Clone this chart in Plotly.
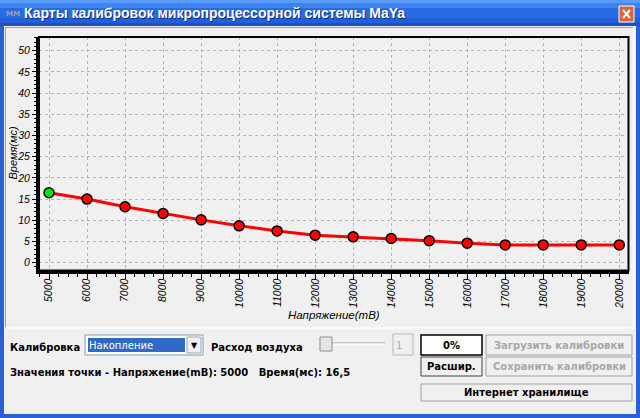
import plotly.graph_objects as go

# Калибровка "Накопление": напряжение (mB) -> время (мс)
voltage = [5000, 6000, 7000, 8000, 9000, 10000, 11000, 12000,
           13000, 14000, 15000, 16000, 17000, 18000, 19000, 20000]
time_ms = [16.5, 15.0, 13.2, 11.6, 10.1, 8.7, 7.5, 6.5,
           6.1, 5.7, 5.2, 4.6, 4.2, 4.2, 4.2, 4.2]
selected = 0  # выбранная точка (зелёная)

window_title = "Карты калибровок микропроцессорной системы MaYa"
x_title = "Напряжение(mB)"
y_title = "Время(мс)"
info_text = "Значения точки - Напряжение(mB): 5000   Время(мс): 16,5"

W, H = 640, 418


# pixel -> paper coords (margins are zero, so paper = whole window)
def px(x):
    return x / W


def py(y):
    return 1 - y / H


shapes = []
annotations = []


def box(x0, y0, x1, y1, fill, line=None, lw=1, layer="below"):
    shapes.append(dict(type="rect", xref="paper", yref="paper",
                       x0=px(x0), x1=px(x1), y0=py(y1), y1=py(y0),
                       fillcolor=fill, layer=layer,
                       line=dict(color=line or fill, width=lw if line else 0)))


def seg(x0, y0, x1, y1, color, lw=1):
    shapes.append(dict(type="line", xref="paper", yref="paper",
                       x0=px(x0), y0=py(y0), x1=px(x1), y1=py(y1),
                       line=dict(color=color, width=lw), layer="below"))


def label(x, y, text, size=10, color="black", anchor="left", family="DejaVu Sans", **kw):
    annotations.append(dict(xref="paper", yref="paper", x=px(x), y=py(y), text=text,
                            showarrow=False, xanchor=anchor, yanchor="middle", borderpad=0,
                            font=dict(family=family, size=size, color=color, **kw)))


# --- window chrome ---
bands = [(0, 3, "#5B9BF8"), (3, 8, "#3E84F1"), (8, 18, "#2A6BE4"),
         (18, 23, "#2160D8"), (23, 26, "#1B52C6")]
for y0, y1, c in bands:
    box(0, y0, W, y1, c)
box(0, 26, 4, H, "#2A5FD6")
box(636, 26, W, H, "#2A5FD6")
box(0, 414, W, H, "#2A5FD6")

# close button
box(619, 6, 634, 22, "#E0603E", line="white", lw=1)
seg(623, 10, 630, 18, "white", 2)
seg(630, 10, 623, 18, "white", 2)

label(5, 14, "<b>MM</b>", size=7, color="#A0A0A0")
label(23, 13, "<b>" + window_title + "</b>", size=14, color="white",
      family="Liberation Sans", shadow="1px 1px 0px #0A2A80")

# sunken chart panel
seg(5, 27.5, 634, 27.5, "#A0A0A0")
seg(5.5, 27, 5.5, 328, "#A0A0A0")
seg(5, 328, 634, 328, "white")
seg(633.5, 27, 633.5, 328, "white")

# --- controls ---
label(9, 347, "<b>Калибровка</b>")
box(85, 335, 203, 355, "white", line="#7F9DB9")
box(88, 338, 185, 352, "#316AC5")
label(88, 345.5, "Накопление", color="white")
box(187, 337, 201, 353, "#F0F0F0", line="#A0A0A0")
label(194, 345.5, "▼", size=8, anchor="center")

label(210, 347, "<b>Расход воздуха</b>")
seg(324, 343, 385, 343, "#A0A0A0")
seg(324, 344, 385, 344, "white")
box(320, 337, 332, 351, "#E4E4E4", line="#909090")
box(393, 334, 413, 355, "#F0F0F0", line="#B8B8B8")
label(395, 345, "1", color="#A8A8A8")

box(421, 335, 482, 355, "white", line="black", lw=1.5)
label(451.5, 345.5, "<b>0%</b>", anchor="center")
box(486, 335, 632, 355, "#F0F0F0", line="#A0A0A0")
label(559, 345.5, "<b>Загрузить калибровки</b>", color="#A8A8A8", anchor="center")
box(421, 357, 482, 376, "#F0F0F0", line="#404040")
label(451.5, 366.5, "<b>Расшир.</b>", anchor="center")
box(486, 357, 632, 376, "#F0F0F0", line="#A0A0A0")
label(559, 366.5, "<b>Сохранить калибровки</b>", color="#A8A8A8", anchor="center")
box(421, 384, 632, 401, "#F0F0F0", line="#A0A0A0")
label(526.5, 392.5, "<b>Интернет хранилище</b>", anchor="center")

label(9, 372, "<b>" + info_text + "</b>")

# axis titles
label(12, 153.5, y_title, size=11, family="Liberation Sans", anchor="center", style="italic")
annotations[-1]["textangle"] = -90
label(333.5, 315, x_title, size=11.5, family="Liberation Sans", anchor="center", style="italic")

# chart frame
shapes.append(dict(type="rect", xref="x domain", yref="y domain", x0=0, x1=1, y0=0, y1=1,
                   line=dict(color="black", width=2), layer="above"))

marker_colors = ["#00E600" if i == selected else "#FF0000" for i in range(len(voltage))]

fig = go.Figure()
fig.add_trace(go.Scatter(
    x=voltage, y=time_ms, mode="lines+markers",
    line=dict(color="#FF0000", width=3),
    marker=dict(size=10, color=marker_colors, line=dict(color="black", width=1.5)),
    cliponaxis=False,
))

tick_font = dict(family="Liberation Sans", size=10.5, color="black", style="italic")
fig.update_layout(
    width=W, height=H,
    margin=dict(l=0, r=0, t=0, b=0),
    paper_bgcolor="#F0F0F0", plot_bgcolor="#F0F0F0",
    showlegend=False,
    shapes=shapes, annotations=annotations,
    xaxis=dict(domain=[px(39), px(628.5)], range=[4737, 20242],
               tickmode="linear", tick0=5000, dtick=1000, tickangle=-90, tickformat="d",
               ticks="outside", ticklen=5, tickcolor="black", ticklabelstandoff=-4,
               showline=True, linecolor="black", linewidth=3,
               showgrid=True, gridcolor="#B4B4B4", griddash="dot", gridwidth=1,
               zeroline=False, tickfont=tick_font, automargin=False,
               minor=dict(dtick=250, ticks="outside", ticklen=3, tickcolor="black", showgrid=False)),
    yaxis=dict(domain=[py(270.5), py(37)], range=[-1.84, 53.23],
               tickmode="linear", tick0=0, dtick=5,
               ticks="outside", ticklen=4, tickcolor="black",
               showline=True, linecolor="black", linewidth=3,
               showgrid=True, gridcolor="#B4B4B4", griddash="dot", gridwidth=1,
               zeroline=False, tickfont=tick_font, automargin=False,
               minor=dict(dtick=1, ticks="outside", ticklen=2, tickcolor="black", showgrid=False)),
)

# the page's default body margin would shift the window by 8px
fig.write_html("out.html", config={"displayModeBar": False},
               post_script="document.body.style.margin='0';")
